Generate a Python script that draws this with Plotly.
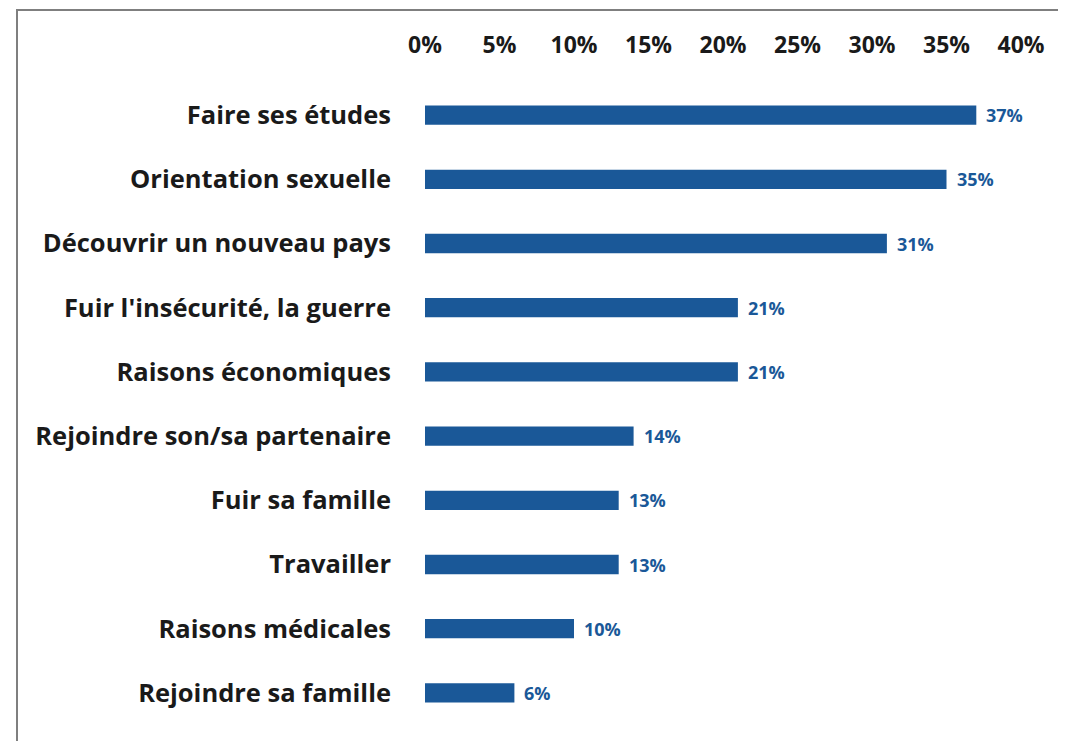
import plotly.graph_objects as go

categories = [
    "Faire ses études",
    "Orientation sexuelle",
    "Découvrir un nouveau pays",
    "Fuir l'insécurité, la guerre",
    "Raisons économiques",
    "Rejoindre son/sa partenaire",
    "Fuir sa famille",
    "Travailler",
    "Raisons médicales",
    "Rejoindre sa famille",
]
values = [37, 35, 31, 21, 21, 14, 13, 13, 10, 6]
tick_vals = [0, 5, 10, 15, 20, 25, 30, 35, 40]
tick_text = ["0%", "5%", "10%", "15%", "20%", "25%", "30%", "35%", "40%"]

OFF = 8  # page body margin
W, H = 1066 - OFF, 741 - OFF
L, R, T, B = 425 - OFF, 1021 - OFF, 83 - OFF, 725 - OFF
BAR = "#1A5898"
FONT = "Open Sans"

fig = go.Figure()
fig.add_trace(go.Bar(
    y=categories, x=values, orientation="h",
    marker=dict(color=BAR, line=dict(width=0)),
    width=0.3,
    hoverinfo="skip",
))

for c, v in zip(categories, values):
    fig.add_annotation(
        x=v, y=c, text=f"<b>{v}%</b>", showarrow=False,
        xanchor="left", xshift=8,
        font=dict(family=FONT, size=18, color=BAR),
    )

def px_x(p):
    return (p - OFF - L) / (R - L)

def px_y(p):
    return (B - (p - OFF)) / (B - T)

fig.add_shape(type="rect", xref="paper", yref="paper",
              x0=px_x(17), x1=px_x(1090), y0=px_y(760), y1=px_y(10),
              line=dict(color="#7F7F7F", width=2), layer="below")

fig.update_layout(
    width=W, height=H,
    margin=dict(l=L, r=W - R, t=T, b=H - B, pad=0),
    paper_bgcolor="white", plot_bgcolor="white",
    showlegend=False,
    xaxis=dict(
        side="top", range=[0, 40], tickvals=tick_vals, ticktext=tick_text,
        showgrid=False, zeroline=False, showline=False, ticks="",
        tickfont=dict(family=FONT, size=23, color="#1A1A1A", weight="bold"),
        ticklabelstandoff=24,
        fixedrange=True,
    ),
    yaxis=dict(
        categoryorder="array", categoryarray=categories,
        autorange="reversed",
        showgrid=False, zeroline=False, showline=False, ticks="",
        tickfont=dict(family=FONT, size=25.5, color="#1A1A1A", weight="bold"),
        ticklabelstandoff=33,
        fixedrange=True,
    ),
)

fig.write_html("out.html")
